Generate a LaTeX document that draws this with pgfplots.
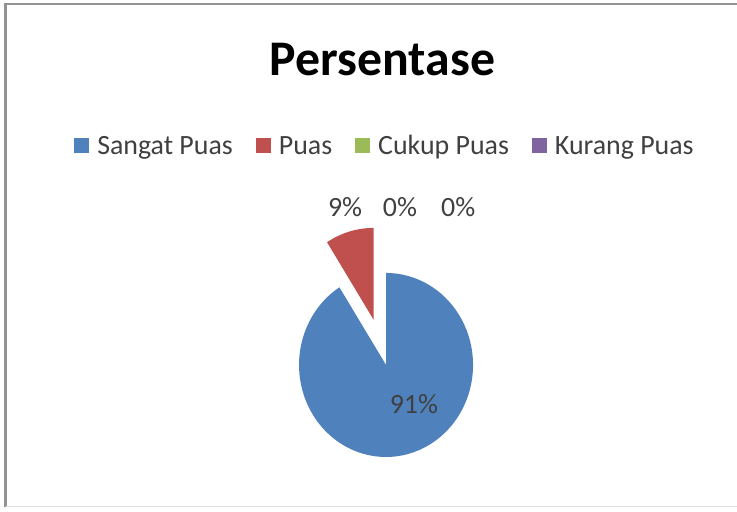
\documentclass[border=0pt]{standalone}
\usepackage{pgfplots}
\pgfplotsset{compat=1.18}
\usepackage{pgfplotstable}
\usepackage{fontspec}
\setmainfont{Carlito}
\definecolor{cblue}{RGB}{79,129,189}
\definecolor{cred}{RGB}{192,80,77}
\definecolor{cgreen}{RGB}{155,187,89}
\definecolor{cpurple}{RGB}{128,100,162}
\definecolor{ctext}{RGB}{64,64,64}
\pgfplotstableread{
value
91
9
0
0
}\piedata
\begin{document}
\begin{tikzpicture}
\useasboundingbox (0bp,0bp) rectangle (737bp,512bp);
\fill[white] (0bp,0bp) rectangle (737bp,512bp);
\draw[color=gray!85, line width=2.5bp] (5.5bp,5bp) -- (5.5bp,508bp) -- (740bp,508bp);
\draw[color=gray!25, line width=1bp] (5.5bp,5bp) -- (737bp,5bp);
\pgfplotstablegetelem{0}{value}\of\piedata \let\va\pgfplotsretval
\pgfplotstablegetelem{1}{value}\of\piedata \let\vb\pgfplotsretval
\pgfplotstablegetelem{2}{value}\of\piedata \let\vc\pgfplotsretval
\pgfplotstablegetelem{3}{value}\of\piedata \let\vd\pgfplotsretval
\pgfmathsetmacro\aA{90-3.6*\va}
\pgfmathsetmacro\aB{\aA-3.6*\vb}
\pgfmathsetmacro\aM{(\aA+\aB)/2}
\pgfmathsetmacro\dx{0.51*cos(\aM)}
\pgfmathsetmacro\dy{0.51*sin(\aM)}
\begin{axis}[
  at={(0bp,0bp)}, anchor=south west,
  width=737bp, height=512bp, scale only axis,
  xmin=-4.437, xmax=4.034, ymin=-1.598, ymax=3.967,
  hide axis, clip=false,
  title={Persentase},
  title style={at={(0.519,0.840)}, anchor=base, font=\fontsize{50}{60}\selectfont\bfseries, text=black},
  legend columns=4,
  legend image code/.code={\fill[#1,draw=none] (0bp,1bp) rectangle (15bp,16bp);},
  legend style={at={(0.521,0.716)}, anchor=center, draw=none, fill=none,
    font=\fontsize{28}{32}\selectfont, text=ctext,
    nodes={inner sep=0bp, anchor=base west},
    /tikz/every odd column/.append style={column sep=8bp},
    /tikz/every even column/.append style={column sep=23bp}},
]
\addplot[fill=cblue, draw=none, domain=\aA:90, samples=180] ({cos(x)},{sin(x)}) -- (axis cs:0,0) -- cycle;
\addlegendentry{Sangat Puas}
\addplot[fill=cred, draw=none, domain=\aB:\aA, samples=40] ({\dx+cos(x)},{\dy+sin(x)}) -- (axis cs:\dx,\dy) -- cycle;
\addlegendentry{Puas}
\addlegendimage{fill=cgreen, draw=none}
\addlegendentry{Cukup Puas}
\addlegendimage{fill=cpurple, draw=none}
\addlegendentry{Kurang Puas}
\node[font=\fontsize{28}{32}\selectfont, text=ctext, anchor=center] at (axis cs:0.32,-0.43) {\va\%};
\node[font=\fontsize{28}{32}\selectfont, text=ctext, anchor=center] at (axis cs:-0.47,1.717) {\vb\%};
\node[font=\fontsize{28}{32}\selectfont, text=ctext, anchor=center] at (axis cs:0.16,1.717) {\vc\%};
\node[font=\fontsize{28}{32}\selectfont, text=ctext, anchor=center] at (axis cs:0.83,1.717) {\vd\%};
\end{axis}
\end{tikzpicture}
\end{document}
